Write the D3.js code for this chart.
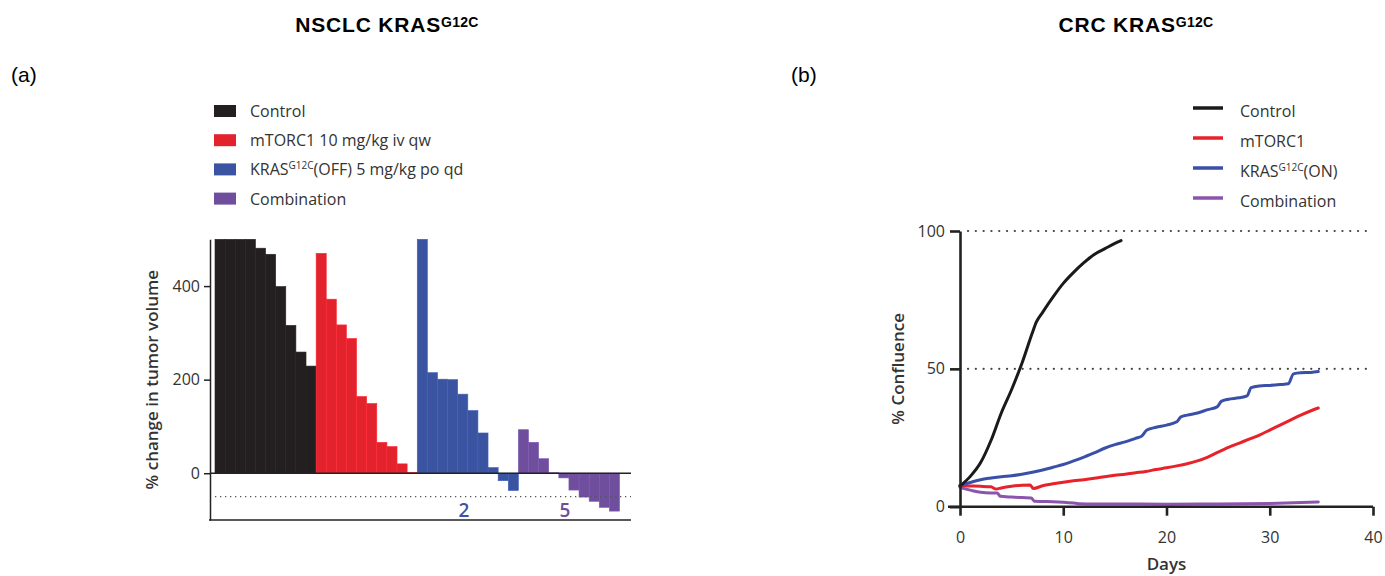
<!DOCTYPE html>
<html>
<head>
<meta charset="utf-8">
<script src="https://cdn.jsdelivr.net/npm/d3@7"></script>
<style>
  body { margin: 0; background: #fff; }
  svg text { font-family: "Open Sans", "Noto Sans", sans-serif; fill: #333; }
  svg text.title, svg text.panel { font-family: "Liberation Sans", Arial, sans-serif; fill: #000; }
</style>
</head>
<body>
<div id="chart"></div>
<script>
// ---- panel (a): waterfall, % change in tumor volume ----
var controlBars = [500, 500, 500, 500, 481, 468, 399, 316, 259, 229];
var mtorcBars = [470, 372, 317, 288, 164, 149, 66, 57, 20, 2];
var krasOffBars = [500, 215, 201, 200, 169, 134, 86, 12, -16, -37];
var comboBars = [93, 66, 31, 1, -10, -36, -51, -60, -73, -81];
var barTicks = [0, 200, 400];
var responders = [{ group: "kras", label: "2" }, { group: "combo", label: "5" }];

// ---- panel (b): % confluence over days ----
var controlLine = [[0,7.5],[1,11],[2,16],[3,24],[4,34],[5,42.5],[6,52],[7,63],[7.4,67],[8,70.5],[9,76],[10,81],[11,85],[12,88.5],[13,91.5],[14,93.5],[15,95.5],[15.6,96.5]];
var mtorcLine = [[0,7.6],[1,7.5],[2,7.4],[3,7.2],[3.5,6.4],[4,6.8],[5,7.4],[6,7.8],[6.8,7.9],[7.1,6.6],[8,7.6],[9,8.3],[10,8.9],[11,9.4],[12,9.8],[13,10.3],[14,10.9],[15,11.4],[16,11.8],[17,12.3],[18,12.8],[19,13.5],[20,14.1],[21,14.8],[22,15.6],[23,16.6],[24,18],[25,19.8],[26,21.5],[27,23],[28,24.5],[29,26],[30,27.8],[31,29.6],[32,31.4],[33,33.2],[34,34.8],[34.7,35.8]];
var krasOnLine = [[0,7.7],[1,8.8],[2,9.8],[3,10.4],[4,10.9],[5,11.2],[6,11.8],[7,12.5],[8,13.3],[9,14.3],[10,15.3],[11,16.6],[12,18],[13,19.5],[14,21.2],[15,22.5],[16,23.5],[17,24.8],[17.6,25.6],[18.1,27.8],[19,28.8],[20,29.6],[21,30.8],[21.4,32.6],[22,33.2],[23,34],[24,35.2],[24.9,36.2],[25.3,38.2],[26,39],[27,39.5],[27.8,40.2],[28.2,43.2],[29,43.8],[30,44],[31,44.3],[31.8,44.6],[32.3,48.2],[33,48.6],[34,48.7],[34.7,49]];
var comboLine = [[0,7],[1,6],[2,5.2],[3,5],[3.6,5],[3.9,3.8],[5,3.5],[6,3.3],[6.9,3.2],[7.2,2],[8,1.9],[9,1.8],[10,1.6],[11,1.3],[11.5,1.1],[13,1],[15,1],[20,0.9],[25,1],[30,1.2],[34.7,1.7]];
var dayTicks = [0, 10, 20, 30, 40];
var confTicks = [0, 50, 100];

var barColors = { control: "#231f20", mtorc: "#e2232d", kras: "#3b54a2", combo: "#6f4e9d" };
var lineColors = { control: "#1a1a1a", mtorc: "#e8222a", kras: "#3a4fa8", combo: "#8b55ad" };

var svg = d3.select("#chart").append("svg")
  .attr("width", 1385)
  .attr("height", 576);

// titles
function title(x, main, sup) {
  var t = svg.append("text")
    .attr("class", "title")
    .attr("x", x)
    .attr("y", 32)
    .attr("text-anchor", "middle")
    .style("font-weight", "bold")
    .style("font-size", "21px")
    .style("letter-spacing", "0.8px");
  t.append("tspan").text(main);
  t.append("tspan").attr("dy", -5).style("font-size", "14px").style("letter-spacing", "0.3px").text(sup);
}
title(387, "NSCLC KRAS", "G12C");
title(1136, "CRC KRAS", "G12C");

svg.append("text").attr("class", "panel").attr("x", 11).attr("y", 82).style("font-size", "21px").text("(a)");
svg.append("text").attr("class", "panel").attr("x", 791).attr("y", 82).style("font-size", "21px").text("(b)");

// ---------- panel (a) ----------
var bars = [];
[["control", controlBars], ["mtorc", mtorcBars], ["kras", krasOffBars], ["combo", comboBars]].forEach(function(g) {
  g[1].forEach(function(v) { bars.push({ group: g[0], value: v }); });
});

var xb = d3.scaleBand()
  .domain(d3.range(bars.length))
  .range([215, 619.5])
  .padding(0);

var yb = d3.scaleLinear()
  .domain([-100, 500])
  .range([520, 239.3])
  .clamp(true);

var ga = svg.append("g");

ga.selectAll("rect.bar")
  .data(bars)
  .enter().append("rect")
  .attr("class", "bar")
  .attr("x", function(d, i) { return xb(i); })
  .attr("width", xb.bandwidth())
  .attr("y", function(d) { return yb(Math.max(0, d.value)); })
  .attr("height", function(d) { return Math.abs(yb(d.value) - yb(0)); })
  .attr("fill", function(d) { return barColors[d.group]; })
  .attr("stroke", function(d) { return d3.color(barColors[d.group]).brighter(0.35); })
  .attr("stroke-width", 0.6);

// dotted -50 line
ga.append("line")
  .attr("x1", 215).attr("x2", 631)
  .attr("y1", yb(-50)).attr("y2", yb(-50))
  .attr("stroke", "#555").attr("stroke-width", 1.3)
  .attr("stroke-dasharray", "1.3,3.7");

// zero line and bottom line
ga.append("line")
  .attr("x1", 210).attr("x2", 631)
  .attr("y1", yb(0)).attr("y2", yb(0))
  .attr("stroke", "#222").attr("stroke-width", 1.5);
ga.append("line")
  .attr("x1", 209).attr("x2", 631)
  .attr("y1", yb(-100)).attr("y2", yb(-100))
  .attr("stroke", "#222").attr("stroke-width", 1.5);

var axA = ga.append("g")
  .attr("transform", "translate(210,0)")
  .call(d3.axisLeft(yb).tickValues(barTicks).tickSize(6).tickSizeOuter(0).tickPadding(4));
axA.select(".domain").attr("stroke", "#222").attr("stroke-width", 1.5);
axA.selectAll(".tick line").attr("stroke", "#222").attr("stroke-width", 1.5);
axA.selectAll(".tick text").style("font-size", "16px").attr("fill", "#333");

ga.append("text")
  .attr("transform", "translate(158," + yb(200) + ") rotate(-90)")
  .attr("text-anchor", "middle")
  .style("font-size", "17px")
  .style("font-weight", 600)
  .text("% change in tumor volume");

// responder counts
responders.forEach(function(r) {
  var idx = bars.map(function(d, i) { return d.group === r.group ? i : -1; }).filter(function(i) { return i >= 0; });
  var cx = (xb(idx[0]) + xb(idx[idx.length - 1]) + xb.bandwidth()) / 2;
  ga.append("text")
    .attr("x", cx - 4)
    .attr("y", 517)
    .attr("text-anchor", "middle")
    .style("font-size", "19px")
    .style("font-weight", 600)
    .style("fill", barColors[r.group])
    .text(r.label);
});

// legend (a)
var legA = [
  { key: "control", label: "Control" },
  { key: "mtorc", label: "mTORC1 10 mg/kg iv qw" },
  { key: "kras", label: "KRAS", sup: "G12C", rest: "(OFF) 5 mg/kg po qd" },
  { key: "combo", label: "Combination" }
];
var la = svg.append("g").selectAll("g")
  .data(legA)
  .enter().append("g")
  .attr("transform", function(d, i) { return "translate(214," + (111 + i * 29.2) + ")"; });
la.append("rect")
  .attr("x", 0).attr("y", -6)
  .attr("width", 22).attr("height", 12)
  .attr("fill", function(d) { return barColors[d.key]; });
la.each(function(d) {
  var t = d3.select(this).append("text")
    .attr("x", 36).attr("y", 6)
    .style("font-size", "16px");
  t.append("tspan").text(d.label);
  if (d.sup) {
    t.append("tspan").attr("dy", -6).style("font-size", "10px").text(d.sup);
    t.append("tspan").attr("dy", 6).text(d.rest);
  }
});

// ---------- panel (b) ----------
var xl = d3.scaleLinear().domain([0, 40]).range([960, 1373]);
var yl = d3.scaleLinear().domain([0, 100]).range([506.7, 231]);

var gb = svg.append("g");

// dotted reference lines at 50 and 100
gb.selectAll("line.ref")
  .data([50, 100])
  .enter().append("line")
  .attr("class", "ref")
  .attr("x1", xl(0) + 8).attr("x2", 1369)
  .attr("y1", function(d) { return yl(d); })
  .attr("y2", function(d) { return yl(d); })
  .attr("stroke", "#444").attr("stroke-width", 2.2)
  .attr("stroke-linecap", "round")
  .attr("stroke-dasharray", "0.1,7.7");

var line = d3.line()
  .x(function(d) { return xl(d[0]); })
  .y(function(d) { return yl(d[1]); })
  .curve(d3.curveMonotoneX);

var series = [
  { key: "combo", data: comboLine },
  { key: "mtorc", data: mtorcLine },
  { key: "kras", data: krasOnLine },
  { key: "control", data: controlLine }
];
gb.selectAll("path.series")
  .data(series)
  .enter().append("path")
  .attr("class", "series")
  .attr("d", function(d) { return line(d.data); })
  .attr("fill", "none")
  .attr("stroke", function(d) { return lineColors[d.key]; })
  .attr("stroke-width", 3)
  .attr("stroke-linejoin", "round")
  .attr("stroke-linecap", "round");

var axX = gb.append("g")
  .attr("transform", "translate(0," + yl(0) + ")")
  .call(d3.axisBottom(xl).tickValues(dayTicks).tickSize(9).tickSizeOuter(0).tickPadding(16));
axX.select(".domain").attr("d", "M948,0H" + xl(40));
var axY = gb.append("g")
  .attr("transform", "translate(" + xl(0) + ",0)")
  .call(d3.axisLeft(yl).tickValues(confTicks).tickSize(10).tickSizeOuter(0).tickPadding(5));
[axX, axY].forEach(function(ax) {
  ax.select(".domain").attr("stroke", "#222").attr("stroke-width", 2.6);
  ax.selectAll(".tick line").attr("stroke", "#222").attr("stroke-width", 2.6);
  ax.selectAll(".tick text").style("font-size", "16px").attr("fill", "#333");
});

gb.append("text")
  .attr("x", (xl(0) + xl(40)) / 2)
  .attr("y", 570)
  .attr("text-anchor", "middle")
  .style("font-size", "17px")
  .style("font-weight", 600)
  .text("Days");

gb.append("text")
  .attr("transform", "translate(904," + yl(50) + ") rotate(-90)")
  .attr("text-anchor", "middle")
  .style("font-size", "17px")
  .style("font-weight", 600)
  .text("% Confluence");

// legend (b)
var legB = [
  { key: "control", label: "Control" },
  { key: "mtorc", label: "mTORC1" },
  { key: "kras", label: "KRAS", sup: "G12C", rest: "(ON)" },
  { key: "combo", label: "Combination" }
];
var lb = svg.append("g").selectAll("g")
  .data(legB)
  .enter().append("g")
  .attr("transform", function(d, i) { return "translate(1193," + (108 + i * 30) + ")"; });
lb.append("line")
  .attr("x1", 0).attr("x2", 30)
  .attr("stroke", function(d) { return lineColors[d.key]; })
  .attr("stroke-width", 3.5);
lb.each(function(d) {
  var t = d3.select(this).append("text")
    .attr("x", 47).attr("y", 9)
    .style("font-size", "16px");
  t.append("tspan").text(d.label);
  if (d.sup) {
    t.append("tspan").attr("dy", -6).style("font-size", "10px").text(d.sup);
    t.append("tspan").attr("dy", 6).text(d.rest);
  }
});
</script>
</body>
</html>
